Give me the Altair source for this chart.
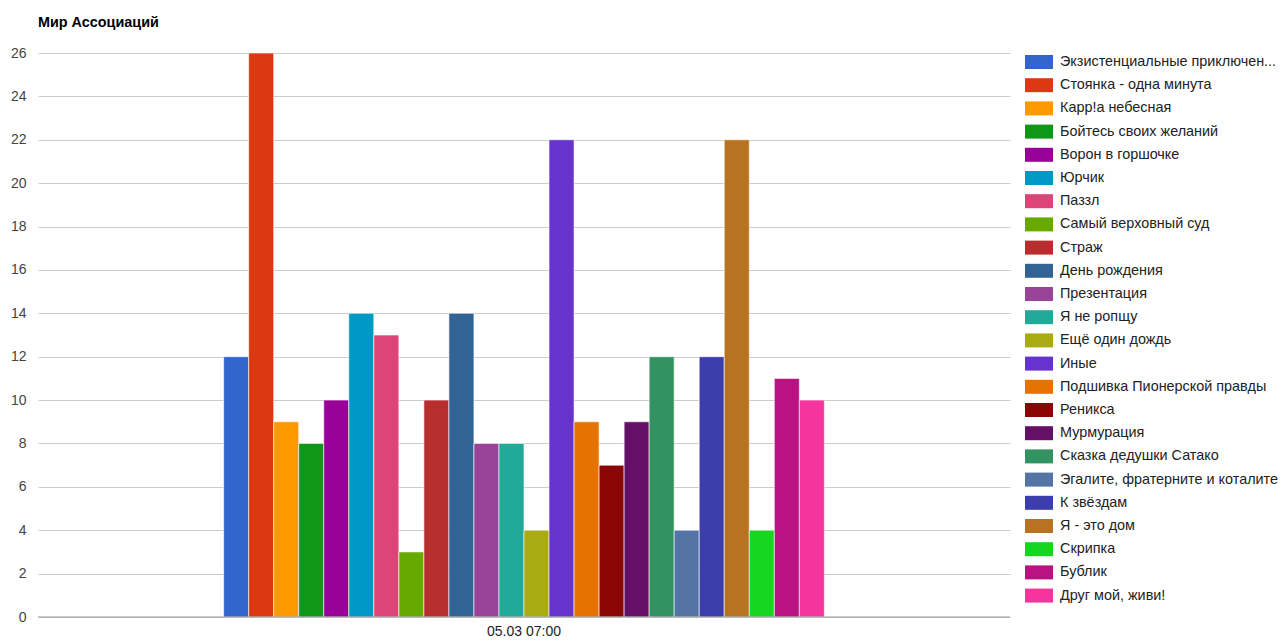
import altair as alt
import pandas as pd

category = "05.03 07:00"
series = [
    "Экзистенциальные приключен...",
    "Стоянка - одна минута",
    "Карр!а небесная",
    "Бойтесь своих желаний",
    "Ворон в горшочке",
    "Юрчик",
    "Паззл",
    "Самый верховный суд",
    "Страж",
    "День рождения",
    "Презентация",
    "Я не ропщу",
    "Ещё один дождь",
    "Иные",
    "Подшивка Пионерской правды",
    "Реникса",
    "Мурмурация",
    "Сказка дедушки Сатако",
    "Эгалите, фратерните и коталите",
    "К звёздам",
    "Я - это дом",
    "Скрипка",
    "Бублик",
    "Друг мой, живи!",
]
values = [12, 26, 9, 8, 10, 14, 13, 3, 10, 14, 8, 8, 4, 22, 9, 7, 9, 12, 4, 12, 22, 4, 11, 10]
colors = [
    "#3366cc", "#dc3912", "#ff9900", "#109618", "#990099", "#0099c6",
    "#dd4477", "#66aa00", "#b82e2e", "#316395", "#994499", "#22aa99",
    "#aaaa11", "#6633cc", "#e67300", "#8b0707", "#651067", "#329262",
    "#5574a6", "#3b3eac", "#b77322", "#16d620", "#b91383", "#f4359e",
]

df = pd.DataFrame({"time": [category] * len(series), "series": series, "value": values})

FONT = "Liberation Sans"

bars = alt.Chart(df).mark_bar(stroke="white", strokeWidth=1, strokeOpacity=0.6).encode(
    x=alt.X("time:N", title=None,
            scale=alt.Scale(paddingInner=0, paddingOuter=0.309),
            axis=alt.Axis(labelAngle=0, ticks=False, domain=False, labelFont=FONT,
                          labelFontSize=14, labelColor="#222222", labelPadding=7)),
    xOffset=alt.XOffset("series:N", sort=series, scale=alt.Scale(paddingInner=0, paddingOuter=0)),
    y=alt.Y("value:Q", title=None,
            scale=alt.Scale(domain=[0, 26], nice=False),
            axis=alt.Axis(values=list(range(0, 27)), ticks=False, domain=False,
                          labelExpr="datum.value % 2 === 0 ? datum.label : ''",
                          labelFont=FONT, labelFontSize=14, labelColor="#444444",
                          labelPadding=12,
                          gridColor={"condition": {"test": "datum.value % 2 === 0", "value": "#cccccc"},
                                     "value": "#ebebeb"})),
    color=alt.Color("series:N",
                    scale=alt.Scale(domain=series, range=colors),
                    legend=alt.Legend(title=None, orient="none", legendX=987, legendY=-5,
                                      symbolType="M-1,-0.5H1V0.5H-1Z", symbolSize=784,
                                      symbolStrokeWidth=0, symbolOpacity=1,
                                      labelFont=FONT, labelFontSize=14.4, labelColor="#222222",
                                      labelOffset=7, rowPadding=2.2, labelLimit=300,
                                      symbolLimit=50)),
)

baseline = alt.Chart(pd.DataFrame({"y": [0]})).mark_rule(color="#9a9a9a", strokeWidth=1).encode(
    y=alt.Y("y:Q", scale=alt.Scale(domain=[0, 26], nice=False))
)

chart = alt.layer(bars, baseline).properties(
    width=972,
    height=564,
    padding={"left": 30, "top": 45, "right": 268, "bottom": 20},
    autosize=alt.AutoSizeParams(type="none"),
    title=alt.TitleParams("Мир Ассоциаций", anchor="start", frame="group", font=FONT,
                          fontSize=14.4, fontWeight="bold", color="#000000", offset=16),
).configure_view(stroke=None)

chart.save("out.html", embed_options={"renderer": "svg", "actions": False})
